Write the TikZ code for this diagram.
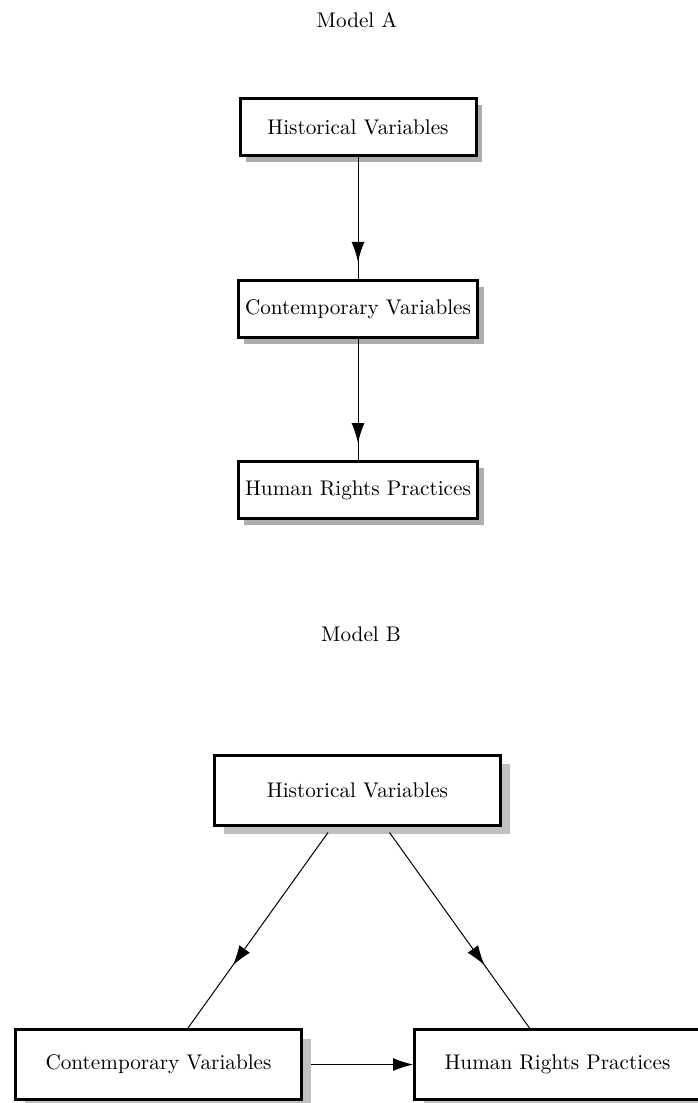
\documentclass[tikz,border=0pt]{standalone}
\usetikzlibrary{arrows.meta}
\usetikzlibrary{positioning}
\usetikzlibrary{shadows}
\usetikzlibrary{decorations.markings}

\begin{document}
\begin{tikzpicture}[
      x = 0.5pt, y = -0.5pt,
      >={Latex[length=10pt, width=6.5pt]},
      font = \fontsize{10.6}{12.5}\selectfont,
      frame/.style = {
        rectangle, draw = black, line width = 1.5pt, fill = white
      },
      var/.style = {
        frame, minimum width = 118pt, minimum height = 28.5pt,
        drop shadow = {shadow xshift = 3pt, shadow yshift = -3pt,
                       fill = black!32, opacity = 1}
      },
      bigvar/.style = {
        frame, minimum width = 143pt, minimum height = 35pt,
        drop shadow = {shadow xshift = 4.5pt, shadow yshift = -4.5pt,
                       fill = black!25, opacity = 1}
      },
      title/.style = { anchor = base },
      link/.style = { black, line width = 0.5pt },
      midarrow/.style = {
        link, postaction = decorate,
        decoration = {markings, mark = at position #1 with {\arrow{>}}}
      },
    ]

    \useasboundingbox (0,0) rectangle (697,1103);

    % Model A
    \node[title] (TA) at (357, 27) {Model A};
    \node[var] (HA) at (358, 127) {Historical Variables};
    \node[var] (CA) at (358, 309) {Contemporary Variables};
    \node[var] (PA) at (358, 490) {Human Rights Practices};

    \draw[midarrow=0.86] (HA) to (CA);
    \draw[midarrow=0.86] (CA) to (PA);

    % Model B
    \node[title] (TB) at (361, 641) {Model B};
    \node[bigvar] (HB) at (357.5, 790) {Historical Variables};
    \node[bigvar] (CB) at (158.5, 1064.5) {Contemporary Variables};
    \node[bigvar] (PB) at (557.5, 1064.5) {Human Rights Practices};

    \draw[midarrow=0.68] ([xshift=-14.75pt, yshift=-3pt]HB.south) to ([xshift=14.75pt]CB.north);
    \draw[midarrow=0.68] ([xshift=16pt, yshift=-3pt]HB.south) to ([xshift=-14pt]PB.north);
    \draw[link, ->] ([xshift=4pt]CB.east) to (PB.west);
  \end{tikzpicture}
\end{document}
